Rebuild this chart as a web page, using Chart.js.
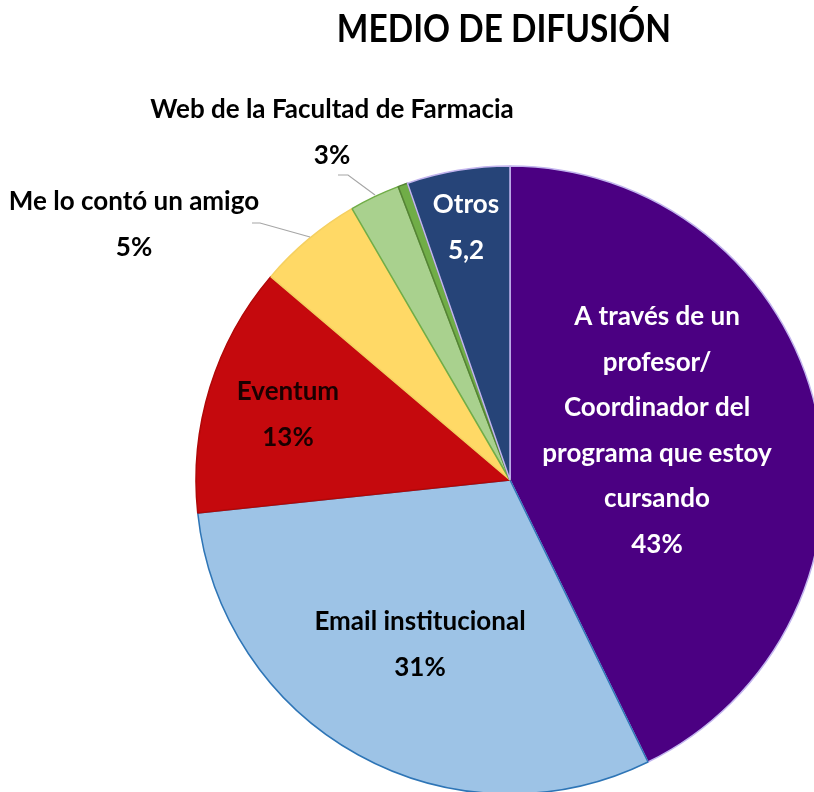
<!DOCTYPE html>
<html lang="es">
<head>
    <meta charset="UTF-8">
    <title>Medio de difusión</title>
    <script src="https://cdn.jsdelivr.net/npm/chart.js"></script>
    <style>
        html, body { margin: 0; padding: 0; background: #fff; overflow: hidden; width: 814px; height: 792px; }
        .chart-box { position: absolute; left: 0; top: 0; width: 1020px; height: 960px; }
    </style>
</head>
<body>
    <div class="chart-box">
        <canvas id="pieChart" width="1020" height="960"></canvas>
    </div>
    <script>
        // Data (clockwise from 12 o'clock)
        const categories = [
            'A través de un profesor/ Coordinador del programa que estoy cursando',
            'Email institucional',
            'Eventum',
            'Me lo contó un amigo',
            'Web de la Facultad de Farmacia',
            '',
            'Otros'
        ];
        const values = [42.8, 30.6, 12.9, 5.4, 2.6, 0.5, 5.3];
        const valueLabels = ['43%', '31%', '13%', '5%', '3%', '', '5,2'];
        const sliceColors = ['#4b0082', '#9dc3e6', '#c5090d', '#ffd966', '#a9d18e', '#70ad47', '#264478'];
        const borderColors = ['#c2b4ee', '#2e75b6', '#b00808', '#f5d060', '#70ad47', '#548235', '#c2b4ee'];

        // label text, colour and position relative to the pie centre
        const labelLines = [
            ['A través de un', 'profesor/', 'Coordinador del', 'programa que estoy', 'cursando'],
            ['Email institucional'],
            ['Eventum'],
            ['Me lo contó un amigo'],
            ['Web de la Facultad de Farmacia'],
            [],
            ['Otros']
        ];
        const labelColors = ['#ffffff', '#000000', '#1a0000', '#000000', '#000000', '', '#ffffff'];
        const labelOffsets = [[147, -163], [-90, 142], [-222, -88], [-376, -278], [-178, -370], null, [-44, -275]];
        const leaderLines = [null, null, null, [[-258, -257], [-250, -257], [-200, -243]], [[-172, -305], [-162, -305], [-135, -285]], null, null];

        const FONT = 'Lato, "Open Sans", sans-serif';
        const LINE_GAP = 45.5;

        const labelPlugin = {
            id: 'sliceLabels',
            afterDraw(chart) {
                const ctx = chart.ctx;
                const arc = chart.getDatasetMeta(0).data[0];
                const cx = arc.x, cy = arc.y;
                ctx.save();
                ctx.textAlign = 'center';
                ctx.textBaseline = 'middle';

                // title (condensed look)
                ctx.save();
                ctx.fillStyle = '#000';
                ctx.font = 'bold 38px ' + FONT;
                ctx.translate(504, 30);
                ctx.scale(0.88, 1);
                ctx.fillText('MEDIO DE DIFUSIÓN', 0, 0);
                ctx.restore();

                // leader lines
                ctx.strokeStyle = '#a6a6a6';
                ctx.lineWidth = 1.2;
                leaderLines.forEach(pts => {
                    if (!pts) return;
                    ctx.beginPath();
                    pts.forEach((p, i) => i ? ctx.lineTo(cx + p[0], cy + p[1]) : ctx.moveTo(cx + p[0], cy + p[1]));
                    ctx.stroke();
                });

                ctx.font = 'bold 26px ' + FONT;
                labelLines.forEach((lines, i) => {
                    if (!labelOffsets[i]) return;
                    const x = cx + labelOffsets[i][0];
                    let y = cy + labelOffsets[i][1];
                    ctx.fillStyle = labelColors[i];
                    lines.forEach(line => {
                        ctx.fillText(line, x, y);
                        y += LINE_GAP;
                    });
                    ctx.fillText(valueLabels[i], x, y);
                });
                ctx.restore();
            }
        };

        const ctx = document.getElementById('pieChart').getContext('2d');
        new Chart(ctx, {
            type: 'pie',
            data: {
                labels: categories,
                datasets: [{
                    data: values,
                    backgroundColor: sliceColors,
                    borderColor: borderColors,
                    borderWidth: 1.5
                }]
            },
            options: {
                responsive: false,
                animation: false,
                radius: 314,
                layout: { padding: 0 },
                plugins: {
                    legend: { display: false },
                    tooltip: { enabled: false }
                }
            },
            plugins: [labelPlugin]
        });
    </script>
</body>
</html>
